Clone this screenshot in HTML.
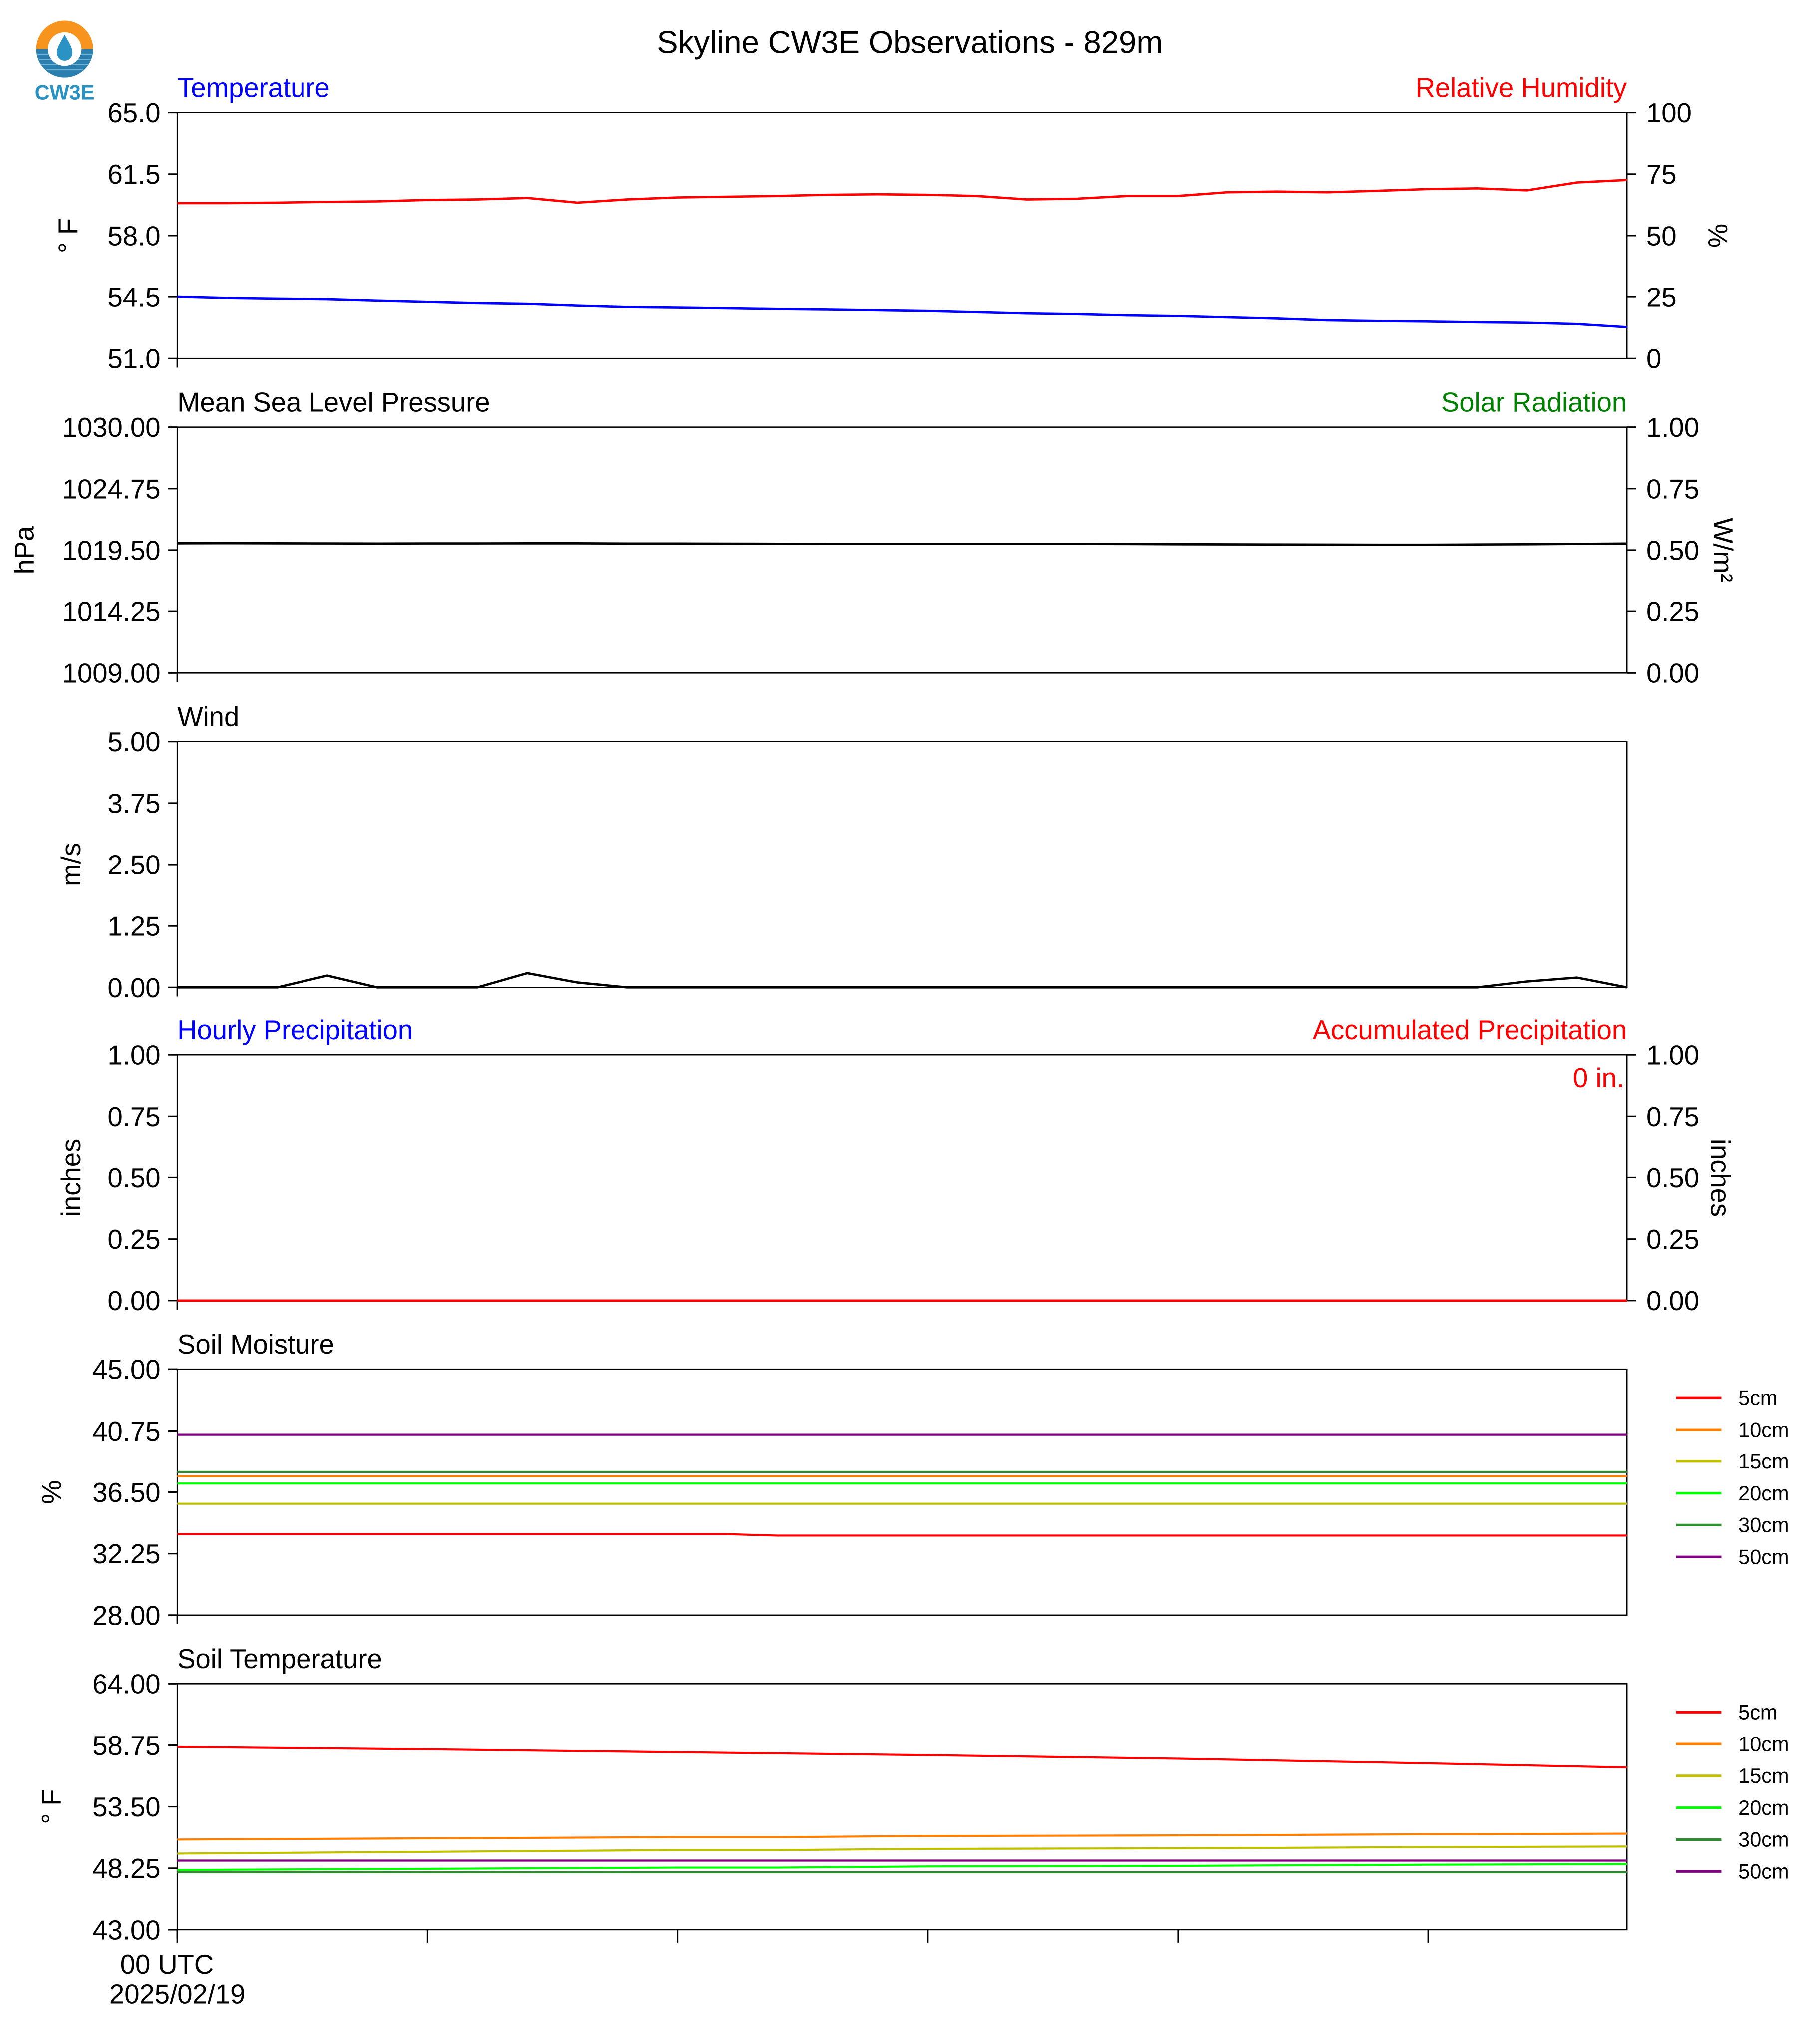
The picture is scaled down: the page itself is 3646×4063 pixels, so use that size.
<!DOCTYPE html>
<html><head><meta charset="utf-8"><style>html,body{margin:0;padding:0;background:#fff}svg{display:block}text{font-family:"Liberation Sans",Helvetica,Arial,sans-serif}</style></head>
<body>
<svg id="chart" xmlns="http://www.w3.org/2000/svg" width="3646" height="4063" viewBox="0 0 1406.2 1567">
<rect width="1406.2" height="1567" fill="#fff"/>
<g>
<path d="M28,38 A22,22 0 0 1 72,38 Z" fill="#f7941d"/>
<path d="M28,38 A22,22 0 0 0 72,38 Z" fill="#2b7fae"/>
<g stroke="#6fb4d6" stroke-width="0.8"><line x1="29" y1="42" x2="71" y2="42"/><line x1="30" y1="46" x2="70" y2="46"/><line x1="32" y1="50" x2="68" y2="50"/><line x1="36" y1="54" x2="64" y2="54"/></g>
<circle cx="50" cy="38" r="13" fill="#fff"/>
<path d="M50,27 C46,34 44,37 44,41 A6,6 0 0 0 56,41 C56,37 54,34 50,27 Z" fill="#2a93c4"/>
<text x="50" y="77" text-anchor="middle" font-size="16" font-weight="bold" fill="#2a93c4">CW3E</text>
</g>
<text x="703" y="41" text-anchor="middle" font-size="24.5">Skyline CW3E Observations - 829m</text>
<g id="plots"></g>
</svg>
<script>
// time index for every 48-minute sample (30 samples)
const sampleIdx = [0,1,2,3,4,5,6,7,8,9,10,11,12,13,14,15,16,17,18,19,20,21,22,23,24,25,26,27,28,29];
const temperatureF = [54.5,54.43,54.39,54.36,54.28,54.21,54.14,54.1,54.0,53.92,53.89,53.85,53.81,53.78,53.74,53.7,53.63,53.56,53.52,53.45,53.41,53.34,53.27,53.17,53.13,53.1,53.06,53.03,52.96,52.78];
const relHumidity = [63.2,63.2,63.4,63.7,63.9,64.5,64.7,65.3,63.4,64.7,65.5,65.8,66.1,66.6,66.8,66.6,66.1,64.7,65.0,66.1,66.1,67.6,67.9,67.6,68.2,68.9,69.2,68.4,71.6,72.6];
const pressure = [1020.08,1020.09,1020.08,1020.07,1020.06,1020.07,1020.07,1020.08,1020.08,1020.06,1020.06,1020.05,1020.04,1020.03,1020.03,1020.03,1020.03,1020.03,1020.03,1020.02,1020.0,1019.99,1019.98,1019.97,1019.96,1019.96,1019.98,1020.0,1020.03,1020.06];
const windSpeed = [0,0,0,0.24,0,0,0,0.29,0.1,0,0,0,0,0,0,0,0,0,0,0,0,0,0,0,0,0,0,0.12,0.2,0];
const hourlyPrecip = [0,0,0,0,0,0,0,0,0,0,0,0,0,0,0,0,0,0,0,0,0,0,0,0,0,0,0,0,0,0];
const accumPrecip = [0,0,0,0,0,0,0,0,0,0,0,0,0,0,0,0,0,0,0,0,0,0,0,0,0,0,0,0,0,0];
// soil series sampled at these indices
const soilIdx = [0,5,10,11,12,15,20,25,29];
const depthLabels = ["5cm","10cm","15cm","20cm","30cm","50cm"];
const depthColors = ["#ff0000","#ff8000","#c0c000","#00ff00","#2e8b2e","#800080"];
const sm5 = [33.6,33.6,33.6,33.6,33.5,33.5,33.5,33.5,33.5];
const sm10 = [37.6,37.6,37.6,37.6,37.6,37.6,37.6,37.6,37.6];
const sm15 = [35.7,35.7,35.7,35.7,35.7,35.7,35.7,35.7,35.7];
const sm20 = [37.1,37.1,37.1,37.1,37.1,37.1,37.1,37.1,37.1];
const sm30 = [37.9,37.9,37.9,37.9,37.9,37.9,37.9,37.9,37.9];
const sm50 = [40.5,40.5,40.5,40.5,40.5,40.5,40.5,40.5,40.5];
const st5 = [58.6,58.4,58.15,58.1,58.05,57.9,57.6,57.2,56.85];
const st10 = [50.7,50.8,50.9,50.9,50.9,51.0,51.05,51.15,51.2];
const st15 = [49.5,49.65,49.8,49.8,49.8,49.9,49.95,50.05,50.1];
const st20 = [48.1,48.2,48.3,48.3,48.3,48.4,48.45,48.55,48.6];
const st30 = [47.9,47.9,47.9,47.9,47.9,47.9,47.9,47.9,47.9];
const st50 = [48.9,48.9,48.9,48.9,48.9,48.9,48.9,48.9,48.9];
const tempTicks = ["65.0","61.5","58.0","54.5","51.0"];
const rhTicks = ["100","75","50","25","0"];
const presTicks = ["1030.00","1024.75","1019.50","1014.25","1009.00"];
const solarTicks = ["1.00","0.75","0.50","0.25","0.00"];
const windTicks = ["5.00","3.75","2.50","1.25","0.00"];
const precipTicks = ["1.00","0.75","0.50","0.25","0.00"];
const smTicks = ["45.00","40.75","36.50","32.25","28.00"];
const stTicks = ["64.00","58.75","53.50","48.25","43.00"];

const NS="http://www.w3.org/2000/svg";
const root=document.getElementById('plots');
const L=137,R=1257,H=190,N=29;
function xs(i){return L+(R-L)*i/N;}
function mk(tag,attrs,parent){const e=document.createElementNS(NS,tag);for(const k in attrs)e.setAttribute(k,attrs[k]);(parent||root).appendChild(e);return e;}
function txt(s,attrs,parent){const e=mk('text',attrs,parent);e.textContent=s;return e;}
function yScale(top,min,max){return v=>top+H-(v-min)/(max-min)*H;}
function line(idx,vals,ys,color,name,w){
  const d=vals.map((v,k)=>(k?'L':'M')+xs(idx[k]).toFixed(2)+','+ys(v).toFixed(2)).join(' ');
  const p=mk('path',{d:d,fill:'none',stroke:color,'stroke-width':w||1.8,'stroke-linejoin':'round'});
  
  
}
function panel(top,name,leftTicks,rightTicks){
  const g=mk('g',{});
  
  
  mk('rect',{x:L,y:top,width:R-L,height:H,fill:'none',stroke:'#000','stroke-width':1},g);
  leftTicks.forEach((t,k)=>{const y=top+H*k/4;
    mk('line',{x1:L-7,y1:y,x2:L,y2:y,stroke:'#000','stroke-width':1.2},g);
    const e=txt(t,{x:L-13,y:y+7.5,'text-anchor':'end','font-size':21},g);
    
    });
  if(rightTicks)rightTicks.forEach((t,k)=>{const y=top+H*k/4;
    mk('line',{x1:R,y1:y,x2:R+7,y2:y,stroke:'#000','stroke-width':1.2},g);
    const e=txt(t,{x:R+15,y:y+7.5,'font-size':21},g);
    
    });
  mk('line',{x1:L,y1:top+H,x2:L,y2:top+H+7,stroke:'#000','stroke-width':1.2},g);
  return g;
}
function title(s,x,y,anchor,color,name,fs){const e=txt(s,{x:x,y:y,'text-anchor':anchor,'font-size':fs||21,fill:color});
  
  }
function ylab(s,x,y,rot,name){const e=txt(s,{x:0,y:0,'text-anchor':'middle','font-size':21,transform:`translate(${x},${y}) rotate(${rot})`});
  
  }
function legend(top,name){
  depthLabels.forEach((lab,k)=>{const y=top+22+k*24.6;
    const g=mk('g',{});
    
    
    mk('line',{x1:1295,y1:y,x2:1330,y2:y,stroke:depthColors[k],'stroke-width':2},g);
    txt(lab,{x:1343,y:y+5.5,'font-size':16},g);});
}
// Panel 1
let T=87;
panel(T,'temperature',tempTicks,rhTicks);
title('Temperature',137,T-12,'start','#0000ff','temperature-title');
title('Relative Humidity',1257,T-12,'end','#ff0000','humidity-title');
ylab('° F',60,182,-90,'temperature-y-axis-title');
ylab('%',1320,182,90,'humidity-y-axis-title');
line(sampleIdx,relHumidity,yScale(T,0,100),'#ff0000','humidity-line');
line(sampleIdx,temperatureF,yScale(T,51,65),'#0000ff','temperature-line');
// Panel 2
T=330;
panel(T,'pressure',presTicks,solarTicks);
title('Mean Sea Level Pressure',137,T-12,'start','#000','pressure-title');
title('Solar Radiation',1257,T-12,'end','#008000','solar-title');
ylab('hPa',26,425,-90,'pressure-y-axis-title');
ylab('W/m²',1324,425,90,'solar-y-axis-title');
line(sampleIdx,pressure,yScale(T,1009,1030),'#000','pressure-line');
// Panel 3
T=573;
panel(T,'wind',windTicks,null);
title('Wind',137,T-12,'start','#000','wind-title');
ylab('m/s',62,668,-90,'wind-y-axis-title');
line(sampleIdx,windSpeed,yScale(T,0,5),'#000','wind-line');
// Panel 4
T=815;
panel(T,'precipitation',precipTicks,precipTicks);
title('Hourly Precipitation',137,T-12,'start','#0000ff','hourly-precip-title');
title('Accumulated Precipitation',1257,T-12,'end','#ff0000','accum-precip-title');
title('0 in.',1255,T+25,'end','#ff0000','accum-precip-total');
ylab('inches',62,910,-90,'precip-y-axis-title');
ylab('inches',1322,910,90,'accum-y-axis-title');
line(sampleIdx,hourlyPrecip,yScale(T,0,1),'#0000ff','hourly-precip-line');
line(sampleIdx,accumPrecip,yScale(T,0,1),'#ff0000','accum-precip-line');
// Panel 5
T=1058;
panel(T,'soil-moisture',smTicks,null);
title('Soil Moisture',137,T-12,'start','#000','soil-moisture-title');
ylab('%',47,1153,-90,'soil-moisture-y-axis-title');
[sm5,sm10,sm15,sm20,sm30,sm50].forEach((s,k)=>line(soilIdx,s,yScale(T,28,45),depthColors[k],'soil-moisture-'+depthLabels[k],1.6));
legend(T,'soil-moisture-legend');
// Panel 6
T=1301;
panel(T,'soil-temperature',stTicks,null);
title('Soil Temperature',137,T-12,'start','#000','soil-temp-title');
ylab('° F',47,1396,-90,'soil-temp-y-axis-title');
[st5,st10,st15,st20,st30,st50].forEach((s,k)=>line(soilIdx,s,yScale(T,43,64),depthColors[k],'soil-temp-'+depthLabels[k],1.6));
legend(T,'soil-temp-legend');
// x ticks
[0,1,2,3,4,5].forEach(k=>{const x=L+193.3*k;
  const t=mk('line',{x1:x,y1:1491,x2:x,y2:1501,stroke:'#000','stroke-width':1.2});
  
  });
title('00 UTC',129,1525,'middle','#000','x-tick-label');
title('2025/02/19',137,1548,'middle','#000','x-date-label');
</script>
</body></html>
